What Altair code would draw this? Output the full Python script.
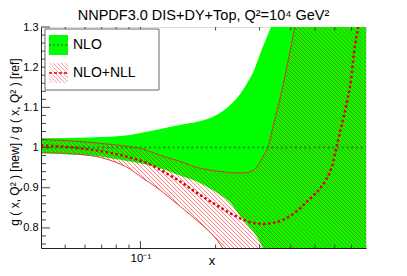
import altair as alt
import pandas as pd

# ---------------- text ----------------
TITLE = "NNPDF3.0 DIS+DY+Top, Q²=10⁴ GeV²"
Y_TITLE = "g ( x, Q² ) [new] / g ( x, Q² ) [ref]"
X_TITLE = "x"
LEGEND_LABELS = ["NLO", "NLO+NLL"]

# ---------------- data ----------------
# NLO band (green)
nlo_x = [0.040, 0.063, 0.091, 0.100, 0.118, 0.145, 0.169, 0.204, 0.230, 0.252,
         0.272, 0.284, 0.290, 0.309, 0.333, 0.365, 0.450, 0.800]
nlo_up = [1.023, 1.025, 1.031, 1.036, 1.045, 1.057, 1.064, 1.083, 1.107, 1.135,
          1.168, 1.190, 1.205, 1.250, 1.300, 1.370, 1.550, 1.900]
nlo_lo = [0.985, 0.980, 0.965, 0.961, 0.950, 0.930, 0.915, 0.886, 0.861, 0.828,
          0.803, 0.789, 0.782, 0.750, 0.700, 0.630, 0.500, 0.300]
# NLO central
nloc_x = [0.040, 0.800]
nloc_y = [1.000, 1.000]

# NLO+NLL band (red hatched)
nll_x = [0.040, 0.063, 0.0758, 0.0912, 0.100, 0.1097, 0.1237, 0.132, 0.1448, 0.1588,
         0.1694, 0.1858, 0.2038, 0.2134, 0.2298, 0.2593, 0.2843, 0.309, 0.3236, 0.342,
         0.3649, 0.3929, 0.4154, 0.450, 0.800]
nll_up = [1.020, 1.013, 1.008, 1.002, 0.998, 0.990, 0.978, 0.973, 0.965, 0.956,
          0.950, 0.945, 0.941, 0.940, 0.937, 0.937, 0.944, 0.977, 1.000, 1.060,
          1.130, 1.225, 1.300, 1.400, 1.450]
nll_lo = [0.988, 0.980, 0.968, 0.946, 0.928, 0.911, 0.888, 0.873, 0.853, 0.832,
          0.817, 0.795, 0.768, 0.750, 0.720, 0.690, 0.670, 0.660, 0.655, 0.650,
          0.650, 0.645, 0.645, 0.640, 0.640]
# NLO+NLL central
nllc_x = [0.040, 0.0538, 0.0737, 0.0912, 0.1067, 0.1237, 0.1448, 0.1694, 0.1964, 0.2298,
          0.2593, 0.2843, 0.3119, 0.3266, 0.3718, 0.4193, 0.4727, 0.5187, 0.5534, 0.5903,
          0.6068, 0.6239, 0.6657, 0.6972, 0.7167, 0.7437, 0.800]
nllc_y = [1.005, 1.000, 0.988, 0.975, 0.961, 0.940, 0.915, 0.886, 0.861, 0.836,
          0.820, 0.812, 0.810, 0.811, 0.820, 0.840, 0.870, 0.895, 0.920, 0.962,
          0.995, 1.028, 1.103, 1.170, 1.237, 1.300, 1.450]

# ticks
y_major = [0.8, 0.9, 1.0, 1.1, 1.2, 1.3]
y_minor = [0.76, 0.78, 0.82, 0.84, 0.86, 0.88, 0.92, 0.94, 0.96, 0.98,
           1.02, 1.04, 1.06, 1.08, 1.12, 1.14, 1.16, 1.18, 1.22, 1.24, 1.26, 1.28]
x_major = [0.1]
x_minor = [0.05, 0.06, 0.07, 0.08, 0.09, 0.2, 0.3, 0.4, 0.5, 0.6, 0.7]

# ---------------- layout / style ----------------
W, H = 325, 221
FONT = "Liberation Sans"
xs = alt.Scale(type="log", domain=[0.04, 0.8], nice=False)
ys = alt.Scale(domain=[0.75, 1.3], nice=False, zero=False)


def hatch(n, alpha=0.5, w=0.24):
    stops = []
    p = 1.0 / n
    for k in range(n):
        o = k * p
        stops += [
            alt.GradientStop(offset=o, color="rgba(255,0,0,0)"),
            alt.GradientStop(offset=o + 0.06 * p, color=f"rgba(255,0,0,{alpha})"),
            alt.GradientStop(offset=o + w * p, color=f"rgba(255,0,0,{alpha})"),
            alt.GradientStop(offset=o + (w + 0.06) * p, color="rgba(255,0,0,0)"),
        ]
    stops.append(alt.GradientStop(offset=1.0, color="rgba(255,0,0,0)"))
    return alt.LinearGradient(gradient="linear", stops=stops, x1=0, y1=1, x2=1, y2=0)


df_nlo = pd.DataFrame({"x": nlo_x, "up": nlo_up, "lo": nlo_lo})
df_nloc = pd.DataFrame({"x": nloc_x, "y": nloc_y})
df_nll = pd.DataFrame({"x": nll_x, "up": nll_up, "lo": nll_lo})
df_nllc = pd.DataFrame({"x": nllc_x, "y": nllc_y})

xaxis = alt.Axis(values=x_major, labelExpr="'10⁻¹'", ticks=False, grid=False,
                 domainColor="#222", labelFont=FONT, labelFontSize=11.5,
                 labelColor="black", labelPadding=4, title=None, zindex=1)
yaxis = alt.Axis(values=y_major, format="~g", ticks=False, grid=False,
                 domainColor="#222", labelFont=FONT, labelFontSize=11,
                 labelColor="black", labelPadding=3, title=None, zindex=1)


def X(field):
    return alt.X(field, type="quantitative", scale=xs, axis=xaxis)


def Y(field):
    return alt.Y(field, type="quantitative", scale=ys, axis=yaxis)


green_band = alt.Chart(df_nlo).mark_area(
    color="#00ff00", clip=True, interpolate="monotone"
).encode(x=X("x"), y=Y("up"), y2="lo:Q")

red_band = alt.Chart(df_nll).mark_area(
    color=hatch(162), clip=True, interpolate="monotone"
).encode(x=X("x"), y=Y("up"), y2="lo:Q")

red_up = alt.Chart(df_nll).mark_line(
    color="#d83030", strokeWidth=1, clip=True, interpolate="monotone"
).encode(x=X("x"), y=Y("up"))
red_lo = alt.Chart(df_nll).mark_line(
    color="#e04040", strokeWidth=1, clip=True, interpolate="monotone"
).encode(x=X("x"), y=Y("lo"))

nlo_line = alt.Chart(df_nloc).mark_line(
    color="#228b22", strokeWidth=2, strokeDash=[2, 2.7], clip=True
).encode(x=X("x"), y=Y("y"))

nll_line = alt.Chart(df_nllc).mark_line(
    color="#e00000", strokeWidth=2.5, strokeDash=[2.5, 2.5], clip=True,
    interpolate="monotone"
).encode(x=X("x"), y=Y("y"))


# ticks (inside the frame)
def yticks(vals, length):
    return alt.Chart(pd.DataFrame({"v": vals})).mark_rule(color="#444", strokeWidth=1).encode(
        y=Y("v"), x=alt.value(0), x2=alt.value(length))


def xticks(vals, y0, y1):
    return alt.Chart(pd.DataFrame({"v": vals})).mark_rule(color="#444", strokeWidth=1).encode(
        x=X("v"), y=alt.value(y0), y2=alt.value(y1))


ticks = [
    yticks(y_major, 9), yticks(y_minor, 5),
    xticks(x_major, H, H - 7), xticks(x_minor, H, H - 3.5),
    xticks(x_major, 0, 7), xticks(x_minor, 0, 3.5),
]

# legend
one = pd.DataFrame({"k": [0]})
leg_box = alt.Chart(one).mark_rect(fill="white", stroke="#666", strokeWidth=1).encode(
    x=alt.value(4), x2=alt.value(118), y=alt.value(2), y2=alt.value(63))
leg_sw1 = alt.Chart(one).mark_rect(fill="#00ff00").encode(
    x=alt.value(8), x2=alt.value(27), y=alt.value(8), y2=alt.value(28))
leg_l1 = alt.Chart(one).mark_rule(color="#228b22", strokeWidth=1.5, strokeDash=[2, 2]).encode(
    x=alt.value(8), x2=alt.value(27), y=alt.value(18))
leg_sw2 = alt.Chart(one).mark_rect(color=hatch(10, 0.4)).encode(
    x=alt.value(8), x2=alt.value(27), y=alt.value(36), y2=alt.value(56))
leg_l2 = alt.Chart(one).mark_rule(color="#e00000", strokeWidth=1.5, strokeDash=[3, 2]).encode(
    x=alt.value(8), x2=alt.value(27), y=alt.value(46))


def label(txt, x, y, size, angle=0, align="left", baseline="middle"):
    return alt.Chart(one).mark_text(text=txt, align=align, baseline=baseline, angle=angle,
                                    font=FONT, fontSize=size, color="black").encode(
        x=alt.value(x), y=alt.value(y))


leg_t1 = label(LEGEND_LABELS[0], 32, 18, 14)
leg_t2 = label(LEGEND_LABELS[1], 32, 46, 14)

title_t = label(TITLE, W / 2, -7, 14.5, align="center", baseline="alphabetic")
ytitle_t = label(Y_TITLE, -26, 115, 12, angle=270, align="center", baseline="middle")
xtitle_t = label(X_TITLE, 171, H + 17, 13, align="center", baseline="alphabetic")

chart = alt.layer(
    green_band, red_band, red_up, red_lo, nlo_line, nll_line,
    *ticks,
    leg_box, leg_sw1, leg_l1, leg_sw2, leg_l2, leg_t1, leg_t2,
    title_t, ytitle_t, xtitle_t,
).properties(
    width=W, height=H,
    autosize=alt.AutoSizeParams(type="none"),
    padding={"left": 33, "top": 19, "right": 33, "bottom": 20},
).configure_view(stroke="#999", strokeWidth=1).configure(background="white")

chart.save("out.html", embed_options={"renderer": "svg", "actions": False})
